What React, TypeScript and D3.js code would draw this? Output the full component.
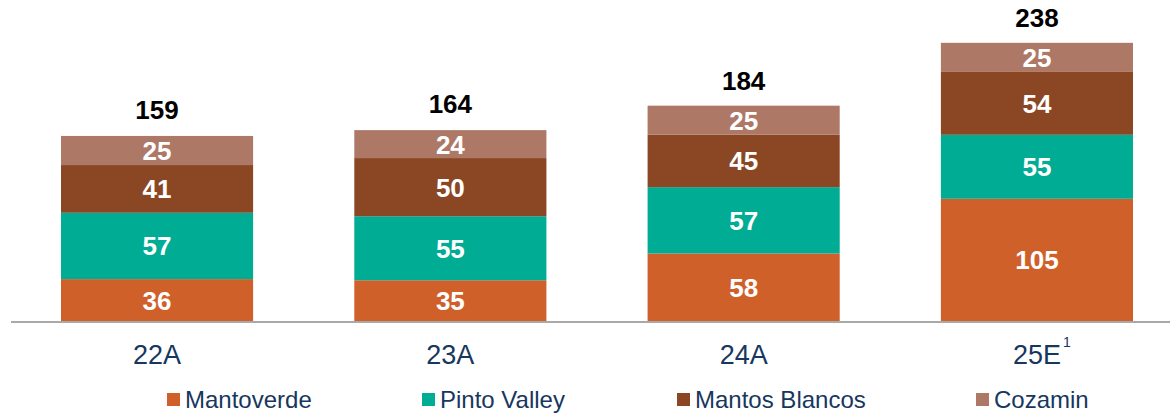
import React from "react";
import * as d3 from "d3";

const categories = ["22A", "23A", "24A", "25E"];
const series = ["Mantoverde", "Pinto Valley", "Mantos Blancos", "Cozamin"];
const mantoverde = [36, 35, 58, 105];
const pintoValley = [57, 55, 57, 55];
const mantosBlancos = [41, 50, 45, 54];
const cozamin = [25, 24, 25, 25];
const totals = [159, 164, 184, 238];
const colors = ["#D0602A", "#00AC93", "#8B4724", "#AD7966"];

const W = 1170;
const H = 415;
const FONT = "'Liberation Sans', Arial, sans-serif";

export default function App() {
  const values = [mantoverde, pintoValley, mantosBlancos, cozamin];
  const rows = categories.map((c, i) => {
    const r: any = { cat: c };
    series.forEach((s, j) => (r[s] = values[j][i]));
    return r;
  });
  const stack = d3.stack().keys(series)(rows as any);

  const x = d3.scaleBand().domain(categories).range([61, 1133]).paddingInner(0.345).paddingOuter(0);
  const y = d3.scaleLinear().domain([0, 238]).range([321, 44]);

  const legendX = [167, 422, 677, 976];

  return (
    <svg width={W} height={H} style={{ position: "absolute", left: 0, top: 0 }} fontFamily={FONT}>
      <rect width={W} height={H} fill="#fff" />
      {stack.map((layer, j) => (
        <g key={series[j]}>
          {layer.map((d, i) => {
            const x0 = x(categories[i])!;
            const yTop = y(d[1]);
            const yBot = y(d[0]);
            return (
              <g key={i}>
                <rect x={x0} y={yTop} width={x.bandwidth()} height={yBot - yTop} fill={colors[j]} />
                <text
                  x={x0 + x.bandwidth() / 2}
                  y={(yTop + yBot) / 2 + 9.5}
                  textAnchor="middle"
                  fill="#fff"
                  fontWeight="bold"
                  fontSize={26}
                >
                  {values[j][i]}
                </text>
              </g>
            );
          })}
        </g>
      ))}
      {categories.map((c, i) => (
        <text
          key={c}
          x={x(c)! + x.bandwidth() / 2}
          y={y(totals[i]) - 17}
          textAnchor="middle"
          fontWeight="bold"
          fontSize={26}
          fill="#000"
        >
          {totals[i]}
        </text>
      ))}
      <line x1={11} x2={1170} y1={322} y2={322} stroke="#8c8c8c" strokeWidth={1.5} />
      {categories.map((c) => (
        <text
          key={c}
          x={x(c)! + x.bandwidth() / 2}
          y={364}
          textAnchor="middle"
          fontSize={27}
          fill="#17375E"
        >
          {c}
        </text>
      ))}
      <text x={1063} y={347} fontSize={14} fill="#17375E">1</text>
      {series.map((s, j) => (
        <g key={s}>
          <rect x={legendX[j]} y={393} width={13} height={13} fill={colors[j]} />
          <text x={legendX[j] + 18} y={408} fontSize={24} fill="#17375E">
            {s}
          </text>
        </g>
      ))}
    </svg>
  );
}
